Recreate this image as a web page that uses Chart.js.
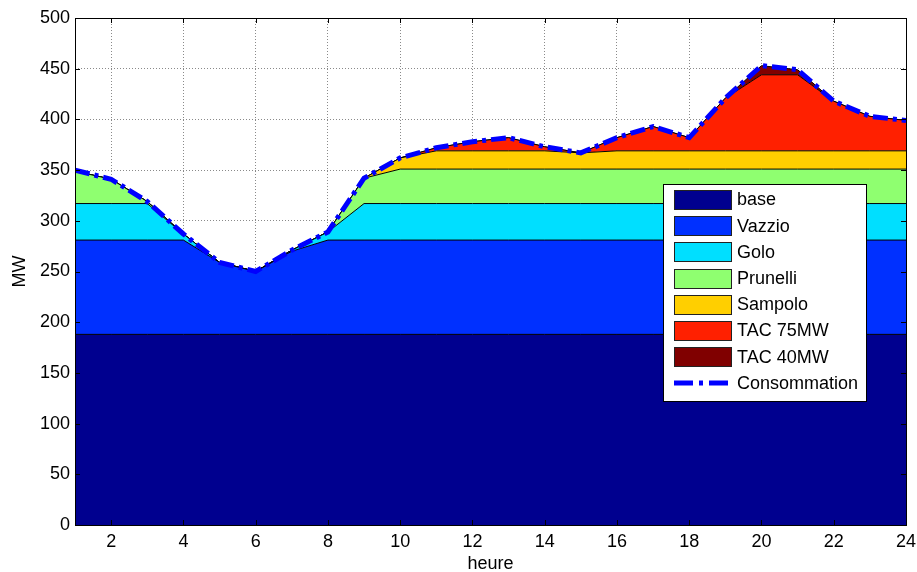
<!DOCTYPE html>
<html>
<head>
<meta charset="utf-8">
<script src="https://cdn.jsdelivr.net/npm/chart.js@4.4.1/dist/chart.umd.min.js"></script>
<style>
  html, body { margin: 0; padding: 0; background: #ffffff; }
  #wrap { width: 917px; height: 572px; position: relative; }
</style>
</head>
<body>
<div id="wrap"><canvas id="c" width="917" height="572"></canvas></div>
<script>
// ---- data ----
const hours = [1,2,3,4,5,6,7,8,9,10,11,12,13,14,15,16,17,18,19,20,21,22,23,24];
const base      = [188,188,188,188,188,188,188,188,188,188,188,188,188,188,188,188,188,188,188,188,188,188,188,188];
const vazzio    = [93,93,93,93,71,62,82,93,93,93,93,93,93,93,93,93,93,93,93,93,93,93,93,93];
const golo      = [36,36,36,6,0,0,1,8,36,36,36,36,36,36,36,36,36,36,36,36,36,36,36,36];
const prunelli  = [32,24,2,0,0,0,0,0,25,34,34,34,34,34,34,34,34,34,34,34,34,34,34,34];
const sampolo   = [0,0,0,0,0,0,0,0,0,11,18,18,18,18,16,18,18,18,18,18,18,18,18,18];
const tac75     = [0,0,0,0,0,0,0,0,0,0,3,9,13,4,0,13,24,13,52,75,75,49,34,30];
const tac40     = [0,0,0,0,0,0,0,0,0,0,0,0,0,0,0,0,0,0,0,9,5,0,0,0];
const consommation = [350,341,319,287,259,250,271,289,342,362,372,378,382,373,367,382,393,382,421,453,449,418,403,399];
const xTickValues = [2,4,6,8,10,12,14,16,18,20,22,24];
const seriesNames = ['base','Vazzio','Golo','Prunelli','Sampolo','TAC 75MW','TAC 40MW','Consommation'];

const colors = ['#00008F','#0030FF','#00DFFF','#8FFF70','#FFCF00','#FF2000','#800000'];
const areaSeries = [base, vazzio, golo, prunelli, sampolo, tac75, tac40];

const FONT = "'Liberation Sans', Arial, sans-serif";
const FS = 18;

function pts(arr) { return arr.map((v, i) => ({ x: hours[i], y: v })); }

const datasets = areaSeries.map((arr, i) => ({
  label: seriesNames[i],
  data: pts(arr),
  backgroundColor: colors[i],
  borderColor: '#000000',
  borderWidth: 1,
  fill: i === 0 ? 'origin' : '-1',
  pointRadius: 0,
  tension: 0,
  stack: 'prod'
}));
datasets.push({
  label: seriesNames[7],
  data: pts(consommation),
  borderColor: '#0000FF',
  backgroundColor: '#0000FF',
  borderWidth: 5,
  borderDash: [15, 5, 4, 5],
  fill: false,
  pointRadius: 0,
  tension: 0,
  stack: 'cons',
  order: -1
});

const framePlugin = {
  id: 'frame',
  afterDraw(chart) {
    const ctx = chart.ctx;
    const a = chart.chartArea;
    const xs = chart.scales.x, ys = chart.scales.y;
    ctx.save();
    ctx.strokeStyle = '#000';
    ctx.lineWidth = 1;
    // tick marks inside
    ctx.beginPath();
    ys.ticks.forEach(t => {
      const y = Math.round(ys.getPixelForValue(t.value)) + 0.5;
      ctx.moveTo(a.left, y); ctx.lineTo(a.left + 5, y);
      ctx.moveTo(a.right, y); ctx.lineTo(a.right - 5, y);
    });
    xs.ticks.forEach(t => {
      const x = Math.round(xs.getPixelForValue(t.value)) + 0.5;
      ctx.moveTo(x, a.bottom); ctx.lineTo(x, a.bottom - 5);
      ctx.moveTo(x, a.top); ctx.lineTo(x, a.top + 5);
    });
    ctx.stroke();
    ctx.strokeRect(Math.round(a.left) + 0.5, Math.round(a.top) + 0.5,
                   Math.round(a.right - a.left), Math.round(a.bottom - a.top));

    // legend box
    const lx = 663, ly = 184, lw = 203, lh = 217;
    ctx.fillStyle = '#ffffff';
    ctx.fillRect(lx, ly, lw, lh);
    ctx.strokeRect(lx + 0.5, ly + 0.5, lw, lh);
    ctx.font = FS + 'px ' + FONT;
    ctx.textBaseline = 'middle';
    ctx.textAlign = 'left';
    chart.data.datasets.forEach((ds, i) => {
      const cy = 199.5 + i * 26.2;
      if (i < 7) {
        ctx.fillStyle = ds.backgroundColor;
        ctx.fillRect(674, Math.round(cy - 9.5), 57, 19);
        ctx.strokeStyle = '#222';
        ctx.strokeRect(674.5, Math.round(cy - 9.5) + 0.5, 57, 19);
      } else {
        ctx.strokeStyle = ds.borderColor;
        ctx.lineWidth = 5;
        ctx.setLineDash([19, 6, 4, 6]);
        ctx.beginPath();
        ctx.moveTo(674, cy); ctx.lineTo(731, cy);
        ctx.stroke();
        ctx.setLineDash([]);
        ctx.lineWidth = 1;
      }
      ctx.fillStyle = '#000';
      ctx.fillText(ds.label, 737, cy + 1);
    });
    ctx.restore();
  }
};

new Chart(document.getElementById('c'), {
  type: 'line',
  data: { datasets },
  plugins: [framePlugin],
  options: {
    responsive: false,
    animation: false,
    devicePixelRatio: 1,
    layout: { padding: { top: 18, right: 11, left: 0, bottom: 0 } },
    plugins: {
      legend: { display: false },
      tooltip: { enabled: false },
      filler: { propagate: false }
    },
    scales: {
      x: {
        type: 'linear',
        min: 1, max: 24,
        afterBuildTicks: (s) => { s.ticks = xTickValues.map(v => ({ value: v })); },
        afterFit: (s) => { s.height = 47; s.paddingRight = 0; s.paddingLeft = 0; },
        grid: { color: '#8a8a8a', lineWidth: 1, drawTicks: false },
        border: { display: false, dash: [1, 2] },
        ticks: { color: '#000', font: { family: FONT, size: FS }, padding: 6, maxRotation: 0, autoSkip: false },
        title: { display: true, text: 'heure', color: '#000', font: { family: FONT, size: FS }, padding: { top: 0, bottom: -3 } }
      },
      y: {
        stacked: true,
        min: 0, max: 500,
        afterFit: (s) => { s.width = 75; },
        grid: { color: '#8a8a8a', lineWidth: 1, drawTicks: false },
        border: { display: false, dash: [1, 2] },
        ticks: { stepSize: 50, color: '#000', font: { family: FONT, size: FS }, padding: 5 },
        title: { display: true, text: 'MW', color: '#000', font: { family: FONT, size: FS }, padding: { top: 9, bottom: 0 } }
      }
    }
  }
});
</script>
</body>
</html>
